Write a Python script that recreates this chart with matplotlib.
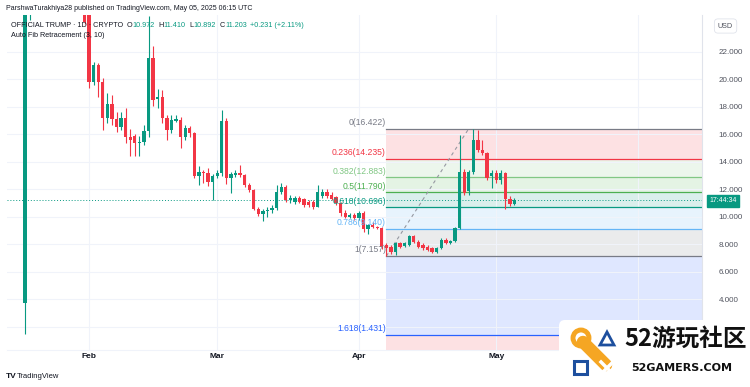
import numpy as np
import pandas as pd
import matplotlib
matplotlib.use("Agg")
import matplotlib.pyplot as plt
import matplotlib.dates as mdates
from matplotlib.ticker import FuncFormatter
from matplotlib.patches import Rectangle, Circle, Polygon, FancyBboxPatch

plt.rcParams['font.family'] = ['Liberation Sans', 'DejaVu Sans']

# OFFICIAL TRUMP daily candles, Jan 18 - May 05 2025
start_date = "2025-01-18"
opens = [3.72, 32.0, 59.0, 45.0, 38.0, 40.0, 34.0, 30.5, 34.0, 31.0, 29.0, 30.0, 27.5, 27.8,
         25.5, 19.8, 21.05, 19.8, 17.2, 18.2, 17.1, 16.55, 17.2, 15.8, 15.9, 15.38, 15.45, 16.25,
         21.55, 18.6, 18.75, 17.2, 16.3, 17.0, 17.05, 15.85, 16.45, 16.1, 12.95, 13.25, 13.2, 12.55,
         12.95, 13.2, 16.95, 12.85, 13.05, 13.2, 13.05, 12.35, 11.95, 10.6, 10.25, 10.4, 10.5, 10.62,
         11.85, 12.2, 11.25, 11.11, 11.4, 11.29, 11.11, 11.11, 10.75, 11.53, 11.84, 11.6, 11.43, 11.04,
         10.27, 10.02, 10.15, 9.91, 10.31, 9.1, 9.42, 9.25, 9.18, 7.96, 7.84, 7.48, 8.09, 7.89,
         7.96, 8.62, 8.2, 7.96, 7.84, 7.72, 7.48, 7.72, 8.33, 8.13, 8.28, 9.18, 13.3, 11.9,
         13.3, 15.6, 14.87, 14.63, 12.98, 13.18, 12.69, 13.22, 11.29, 10.972]
highs = [36.0, 73.0, 62.0, 47.0, 44.0, 41.0, 36.0, 36.0, 35.0, 32.0, 31.5, 30.5, 29.0, 28.5,
         26.5, 21.3, 21.2, 20.1, 19.0, 18.9, 17.6, 17.6, 17.9, 16.4, 16.0, 15.9, 16.7, 24.64,
         22.4, 19.3, 19.25, 17.4, 17.4, 17.4, 17.3, 16.7, 16.6, 16.2, 13.7, 13.4, 13.56, 13.1,
         13.4, 17.8, 17.2, 13.3, 13.4, 13.8, 13.1, 12.45, 12.05, 10.75, 10.6, 10.7, 10.9, 12.33,
         12.45, 12.3, 11.6, 11.5, 11.55, 11.4, 11.2, 11.2, 12.33, 12.0, 12.0, 11.8, 11.5, 11.1,
         10.5, 10.3, 10.3, 10.4, 10.4, 9.5, 9.6, 9.35, 9.3, 8.1, 7.95, 8.2, 8.2, 8.15,
         8.7, 8.7, 8.3, 8.1, 7.95, 7.8, 7.8, 8.45, 8.5, 8.35, 9.3, 15.96, 13.5, 13.4,
         16.422, 16.3, 15.6, 14.7, 13.4, 13.4, 13.4, 13.3, 11.5, 11.410]
lows = [1.47, 24.3, 38.0, 35.0, 34.0, 32.0, 29.0, 29.5, 30.0, 27.5, 27.0, 26.5, 26.0, 24.0,
        19.4, 19.6, 18.7, 16.3, 16.8, 16.7, 16.2, 16.3, 15.4, 14.4, 14.4, 14.4, 15.2, 15.8,
        18.1, 17.9, 16.85, 15.6, 16.1, 16.9, 15.0, 15.6, 15.8, 12.8, 12.3, 12.5, 12.25, 11.2,
        12.8, 13.0, 12.4, 11.75, 12.9, 12.9, 12.2, 11.8, 10.5, 10.1, 9.7, 10.0, 10.3, 10.5,
        11.7, 11.1, 11.0, 10.95, 11.0, 10.7, 10.75, 10.6, 10.7, 11.4, 11.4, 11.2, 10.9, 10.1,
        9.9, 9.9, 9.8, 9.8, 8.9, 8.76, 9.2, 9.1, 7.7, 7.157, 7.3, 7.25, 7.75, 7.8,
        7.9, 8.1, 7.75, 7.6, 7.5, 7.4, 7.4, 7.65, 8.0, 8.05, 8.2, 9.1, 11.6, 11.6,
        13.1, 14.7, 14.5, 12.7, 12.1, 12.5, 12.4, 10.56, 10.8, 10.892]
closes = [32.0, 59.0, 45.0, 38.0, 40.0, 34.0, 30.5, 34.0, 31.0, 29.0, 30.0, 27.5, 27.8, 24.2,
          19.8, 21.05, 19.8, 17.2, 18.2, 17.1, 16.55, 17.2, 15.8, 15.6, 15.36, 15.45, 16.25, 21.55,
          18.5, 18.75, 17.2, 16.3, 17.05, 17.1, 15.85, 16.45, 16.1, 12.95, 13.25, 13.2, 12.55, 12.95,
          13.2, 16.95, 12.8, 13.1, 13.2, 13.05, 12.35, 11.95, 10.6, 10.25, 10.45, 10.5, 10.62, 11.85,
          12.2, 11.25, 11.4, 11.36, 11.11, 10.87, 10.87, 10.75, 11.84, 11.84, 11.53, 11.29, 11.0, 10.27,
          10.02, 10.15, 9.91, 10.31, 9.1, 9.42, 9.25, 9.18, 7.84, 7.72, 7.48, 8.09, 7.84, 8.09,
          8.62, 8.2, 7.84, 7.72, 7.6, 7.48, 7.72, 8.33, 8.13, 8.28, 9.18, 13.3, 11.73, 13.3,
          15.6, 14.87, 14.63, 12.81, 13.18, 12.69, 13.22, 11.29, 10.97, 11.203]

# Auto fib retracement: pivot low (Apr 7) -> pivot high (Apr 25)
fib_low_date = "2025-04-07"
fib_high_date = "2025-04-25"
fib_low = 7.157
fib_high = 16.422
fib_ratios = [0, 0.236, 0.382, 0.5, 0.618, 0.786, 1, 1.618, 2.618]
fib_colors = ['#787b86', '#f23645', '#81c784', '#4caf50', '#089981', '#64b5f6', '#787b86', '#2962ff', '#f23645']
fib_labels = ['0', '0.236', '0.382', '0.5', '0.618', '0.786', '1', '1.618', None]

y_ticks = np.arange(2, 24, 2)
last_price = closes[-1]

UP = '#089981'
DOWN = '#f23645'
TXT = '#131722'
W, H = 750, 387


def fx(x, y):
    return x / W, 1 - y / H


fig = plt.figure(figsize=(7.5, 3.87), dpi=100)
fig.patch.set_facecolor('white')
ax = fig.add_axes([7 / W, (H - 350) / H, (702 - 7) / W, (350 - 15) / H])

dates = pd.date_range(start_date, periods=len(opens), freq='D')
xd = mdates.date2num(dates)
o = np.array(opens); h = np.array(highs); l = np.array(lows); c = np.array(closes)
up = c >= o
cols = np.where(up, UP, DOWN)

ax.vlines(xd, l, h, colors=cols, linewidth=0.8, zorder=3)
body_lo = np.minimum(o, c)
body_h = np.maximum(np.abs(c - o), 0.06)
ax.bar(xd, body_h, bottom=body_lo, width=0.72, color=cols, linewidth=0, zorder=4)

x0 = xd[0] - 3.95
x1 = xd[0] + 148.0
ax.set_xlim(x0, x1)
ax.set_ylim(0.327, 24.69)

# fib levels
fx_start = mdates.date2num(pd.Timestamp(fib_low_date))
fx_end = mdates.date2num(pd.Timestamp(fib_high_date))
levels = [fib_high - r * (fib_high - fib_low) for r in fib_ratios]
for i in range(1, len(levels)):
    ax.fill_between([fx_start, x1], levels[i], levels[i - 1], color=fib_colors[i], alpha=0.15,
                    linewidth=0, zorder=1)
for lv, col, lab in zip(levels, fib_colors, fib_labels):
    if lab is None:
        continue
    ax.plot([fx_start, x1], [lv, lv], color=col, lw=0.9, zorder=2)
    ax.text(fx_start - 0.1, lv + 0.12, f"{lab}({lv:.3f})", color=col, fontsize=6.2,
            ha='right', va='bottom', zorder=5)
ax.plot([fx_start, fx_end], [fib_low, fib_high], color='#9598a1', lw=0.8, ls=(0, (3, 3)), zorder=2)

ax.axhline(last_price, color=UP, lw=0.7, ls=(0, (1, 2)), zorder=2)

# axes styling
ax.set_yticks(y_ticks)
ax.yaxis.tick_right()
ax.yaxis.set_major_formatter(FuncFormatter(lambda v, p: '' if v < 3 else f"{v:.3f}"))
ax.xaxis.set_major_locator(mdates.MonthLocator())
ax.xaxis.set_major_formatter(mdates.DateFormatter('%b'))
ax.tick_params(axis='y', length=0, pad=12, labelsize=5.8, labelcolor='#50535e')
ax.tick_params(axis='x', length=0, pad=2.5, labelsize=6)
for t in ax.get_xticklabels():
    t.set_fontweight('bold')
    t.set_color(TXT)
ax.grid(True, color='#f0f3fa', lw=0.8, zorder=0)
for s in ['top', 'left']:
    ax.spines[s].set_visible(False)
ax.spines['right'].set_color('#e0e3eb')
ax.spines['bottom'].set_color('#f0f3fa')

# header texts
fig.text(*fx(6, 9), "ParshwaTurakhiya28 published on TradingView.com, May 05, 2025 06:15 UTC",
         fontsize=5.05, color=TXT, va='center')

# legend line, pieces chained one after another
renderer = fig.canvas.get_renderer()
legend_bits = [("OFFICIAL TRUMP · 1D · CRYPTO", TXT, 3.5), ("O", TXT, 0.3), (f"{opens[-1]:.3f}", UP, 3.5),
               ("H", TXT, 0.3), (f"{highs[-1]:.3f}", UP, 3.5), ("L", TXT, 0.3), (f"{lows[-1]:.3f}", UP, 3.5),
               ("C", TXT, 0.3), (f"{closes[-1]:.3f}", UP, 3.5), ("+0.231 (+2.11%)", UP, 0)]
xp = 11
for s, col, gap in legend_bits:
    t = fig.text(*fx(xp, 25.5), s, fontsize=5.2, color=col, va='center')
    xp += t.get_window_extent(renderer).width + gap
fig.text(*fx(11, 35.5), "Auto Fib Retracement (3, 10)", fontsize=5.2, color=TXT, va='center')

fig.text(*fx(718, 26), "USD", fontsize=5.2, color='#50535e', va='center',
         bbox=dict(boxstyle='round,pad=0.5', fc='white', ec='#e0e3eb', lw=0.6))
fig.text(*fx(709, 201), "17:44:34", fontsize=5.0, color='white', va='center',
         bbox=dict(boxstyle='square,pad=0.35', fc=UP, ec=UP))

fig.text(*fx(6, 377), "TV", fontsize=6, color=TXT, va='center', fontweight='bold')
fig.text(*fx(17, 377), "TradingView", fontsize=5.5, color=TXT, va='center')

# watermark logo
wm = fig.add_axes([557 / W, 0, (W - 557) / W, (H - 318) / H])
wm.set_xlim(557, 750)
wm.set_ylim(387, 318)
wm.axis('off')
wm.add_patch(FancyBboxPatch((559, 320), 190, 66, boxstyle='round,pad=0,rounding_size=6',
                            fc='white', ec='none'))
ORG = '#f5a623'
BLU = '#1d4f9e'
wm.plot([583, 606], [342, 365], color=ORG, lw=9, solid_capstyle='round')
wm.add_patch(Circle((581, 338), 8, fc='white', ec=ORG, lw=3.5))
wm.add_patch(Polygon([[600, 345], [614, 345], [607, 332]], closed=True, fc='white', ec=BLU, lw=2))
wm.add_patch(Rectangle((574, 361), 13, 13, fc='white', ec=BLU, lw=2.2))
wm.plot([601, 613], [362, 374], color='white', lw=2.5)
wm.plot([601, 613], [374, 362], color='white', lw=2.5)
wm.text(624, 339, "52游玩社区", fontsize=17, fontweight='bold', color='#111111', va='center',
        family=['Noto Sans CJK SC', 'DejaVu Sans'])
wm.text(631, 368, "52GAMERS.COM", fontsize=8, fontweight='bold', color='#111111', va='center',
        family=['DejaVu Sans'])

fig.savefig("out.png", dpi=100)
